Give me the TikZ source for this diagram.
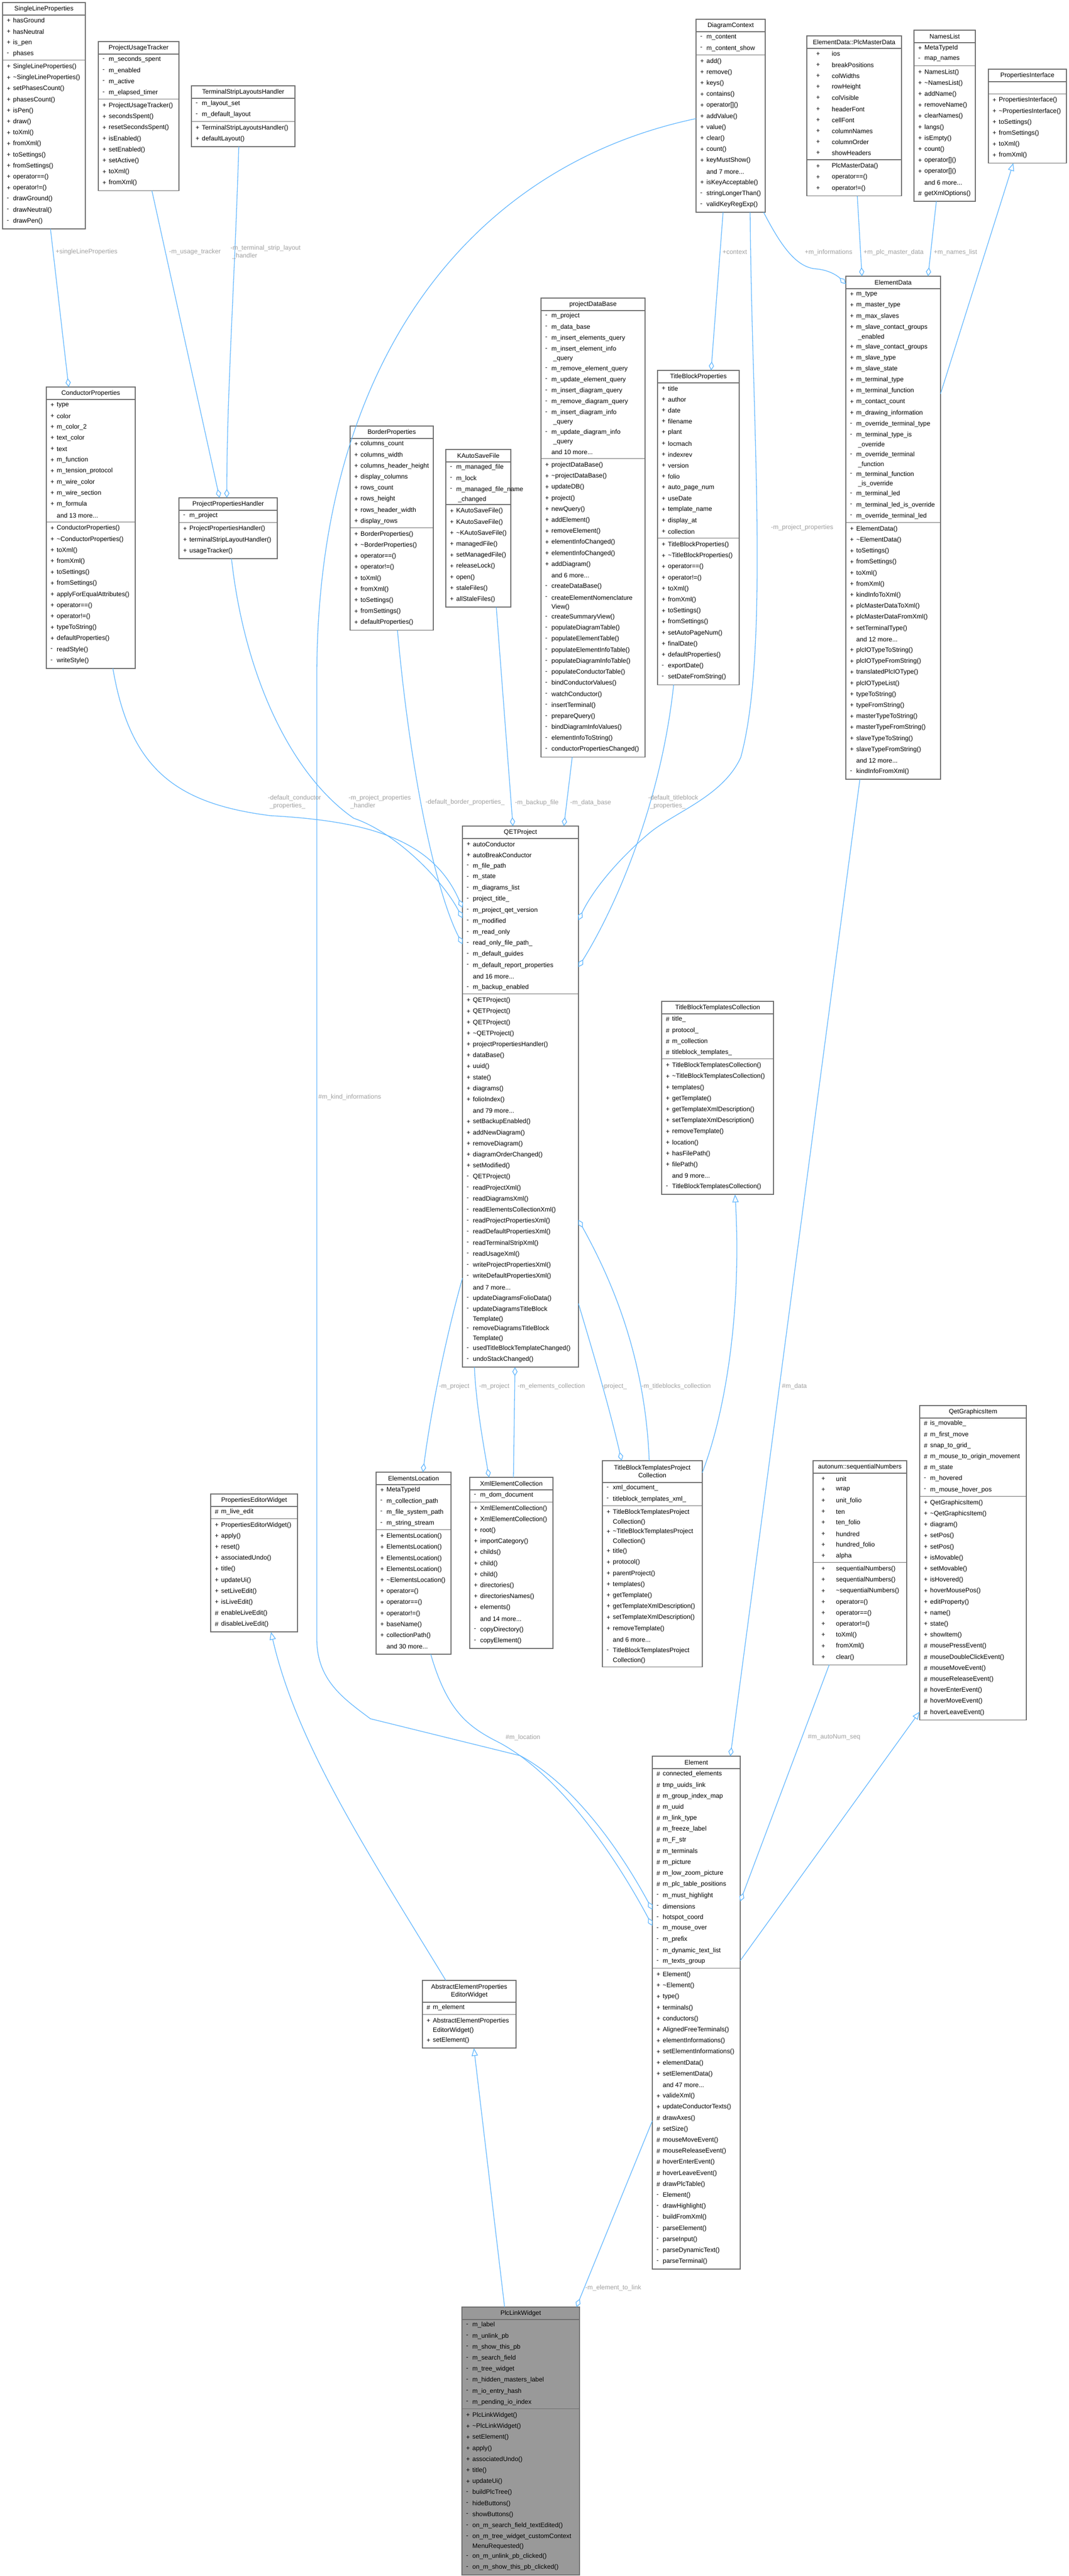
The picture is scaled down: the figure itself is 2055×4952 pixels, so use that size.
\documentclass[tikz,border=0pt]{standalone}
\usepackage{fontspec}
\setmainfont{Liberation Sans}
\usetikzlibrary{arrows.meta,calc,backgrounds}
\definecolor{edgec}{RGB}{99,184,255}
\definecolor{boxc}{RGB}{110,110,110}
\definecolor{labc}{RGB}{160,160,160}
\definecolor{plw}{RGB}{153,153,153}
\newcommand\fs{\fontsize{12.3}{15}\selectfont}
\newcommand\tld{\textasciitilde}
\newcommand\dd{.\kern0pt.\kern0pt.}
\def\RH{21.2}\def\RHc{16.5}
\def\mko{8}\def\txo{20}
\def\mkp{+}\def\mkm{-}\def\mkh{\#}
\def\sepm{s}\def\contm{c}
\newcommand\cls[8][white]{%
\begin{scope}
 \pgfmathsetmacro\cx{#3}\pgfmathsetmacro\cyt{#4}\pgfmathsetmacro\cw{#5}
 \node[font=\fs,align=center,inner sep=0] at (\cx+\cw/2,\cyt+#6/2) {#7};
 \pgfmathsetmacro\yy{\cyt+#6}
 \xdef\cury{\yy}
 \draw[boxc,line width=1.3] (\cx,\yy) -- (\cx+\cw,\yy);
 \foreach \m/\t in {#8}{%
   \edef\mm{\m}%
   \ifx\mm\sepm
     \draw[boxc,line width=1.3] (\cx,\cury+2) -- (\cx+\cw,\cury+2);
     \pgfmathsetmacro\ny{\cury+4}\xdef\cury{\ny}%
   \else
     \ifx\mm\contm\def\rh{\RHc}\else\def\rh{\RH}\fi
     \pgfmathsetmacro\yc{\cury+\rh/2}%
     \ifcsname mk\m\endcsname
       \node[font=\fs,anchor=west,inner sep=0] at (\cx+\mko,\yc) {\csname mk\m\endcsname};
     \fi
     \node[font=\fs,anchor=west,inner sep=0] at (\cx+\txo,\yc) {\t};
     \pgfmathsetmacro\ny{\cury+\rh}\xdef\cury{\ny}%
   \fi}
 \pgfmathsetmacro\hgt{\cury+4-\cyt}
 \begin{pgfonlayer}{background}
 \node[draw=boxc,fill=#1,line width=1.6,anchor=north west,inner sep=0,outer sep=0,
   minimum width=\cw pt,minimum height=\hgt pt] (#2) at (\cx,\cyt) {};
 \end{pgfonlayer}
\end{scope}}
\tikzset{
 edge/.style={draw=edgec,line width=1.3},
 agg/.style={edge,-{Diamond[length=17,width=10,fill=white,line width=1.3]}},
 inh/.style={edge,-{Triangle[length=15,width=12,fill=white,line width=1.3]}},
 lab/.style={font=\fs,text=labc,anchor=west,inner sep=0,align=left}
}
\begin{document}
\catcode`\_=12
\begin{tikzpicture}[x=1pt,y=-1pt]
\begin{pgfonlayer}{background}
\fill[white] (0,0) rectangle (2055,4952);
\end{pgfonlayer}
\useasboundingbox (0,0) rectangle (2055,4952);

\cls{SLP}{5}{5}{159}{24}{SingleLineProperties}{p/hasGround,p/hasNeutral,p/is_pen,m/phases,s/x,p/SingleLineProperties(),p/\tld{}SingleLineProperties(),p/setPhasesCount(),p/phasesCount(),p/isPen(),p/draw(),p/toXml(),p/fromXml(),p/toSettings(),p/fromSettings(),p/operator==(),p/operator!=(),m/drawGround(),m/drawNeutral(),m/drawPen()}
\cls{PUT}{189}{80}{155}{24}{ProjectUsageTracker}{m/m_seconds_spent,m/m_enabled,m/m_active,m/m_elapsed_timer,s/x,p/ProjectUsageTracker(),p/secondsSpent(),p/resetSecondsSpent(),p/isEnabled(),p/setEnabled(),p/setActive(),p/toXml(),p/fromXml()}
\cls{TSLH}{368}{165}{199}{24}{TerminalStripLayoutsHandler}{m/m_layout_set,m/m_default_layout,s/x,p/TerminalStripLayoutsHandler(),p/defaultLayout()}
\cls{DC}{1338}{37}{133}{24}{DiagramContext}{m/m_content,m/m_content_show,s/x,p/add(),p/remove(),p/keys(),p/contains(),p/operator[](),p/addValue(),p/value(),p/clear(),p/count(),p/keyMustShow(),n/and 7 more\dd,p/isKeyAcceptable(),m/stringLongerThan(),m/validKeyRegExp()}
{\def\mko{18}\def\txo{48}
\cls{PMD}{1551}{69}{182}{24}{ElementData::PlcMasterData}{p/ios,p/breakPositions,p/colWidths,p/rowHeight,p/colVisible,p/headerFont,p/cellFont,p/columnNames,p/columnOrder,p/showHeaders,s/x,p/PlcMasterData(),p/operator==(),p/operator!=()}}
\cls{NL}{1757}{58}{118}{24}{NamesList}{p/MetaTypeId,m/map_names,s/x,p/NamesList(),p/\tld{}NamesList(),p/addName(),p/removeName(),p/clearNames(),p/langs(),p/isEmpty(),p/count(),p/operator[](),p/operator[](),n/and 6 more\dd,h/getXmlOptions()}
\cls{PI}{1900}{133}{150}{24}{PropertiesInterface}{e/{},s/x,p/PropertiesInterface(),p/\tld{}PropertiesInterface(),p/toSettings(),p/fromSettings(),p/toXml(),p/fromXml()}
\cls{CP}{89}{744}{171}{24}{ConductorProperties}{p/type,p/color,p/m_color_2,p/text_color,p/text,p/m_function,p/m_tension_protocol,p/m_wire_color,p/m_wire_section,p/m_formula,n/and 13 more\dd,s/x,p/ConductorProperties(),p/\tld{}ConductorProperties(),p/toXml(),p/fromXml(),p/toSettings(),p/fromSettings(),p/applyForEqualAttributes(),p/operator==(),p/operator!=(),p/typeToString(),p/defaultProperties(),m/readStyle(),m/writeStyle()}
\cls{PPH}{344}{957}{189}{24}{ProjectPropertiesHandler}{m/m_project,s/x,p/ProjectPropertiesHandler(),p/terminalStripLayoutHandler(),p/usageTracker()}
\cls{BP}{673}{819}{160}{24}{BorderProperties}{p/columns_count,p/columns_width,p/columns_header_height,p/display_columns,p/rows_count,p/rows_height,p/rows_header_width,p/display_rows,s/x,p/BorderProperties(),p/\tld{}BorderProperties(),p/operator==(),p/operator!=(),p/toXml(),p/fromXml(),p/toSettings(),p/fromSettings(),p/defaultProperties()}
\cls{KASF}{857}{864}{125}{24}{KAutoSaveFile}{m/m_managed_file,m/m_lock,m/m_managed_file_name,c/\ _changed,s/x,p/KAutoSaveFile(),p/KAutoSaveFile(),p/\tld{}KAutoSaveFile(),p/managedFile(),p/setManagedFile(),p/releaseLock(),p/open(),p/staleFiles(),p/allStaleFiles()}
\cls{PDB}{1040}{573}{200}{24}{projectDataBase}{m/m_project,m/m_data_base,m/m_insert_elements_query,m/m_insert_element_info,c/\ _query,m/m_remove_element_query,m/m_update_element_query,m/m_insert_diagram_query,m/m_remove_diagram_query,m/m_insert_diagram_info,c/\ _query,m/m_update_diagram_info,c/\ _query,n/and 10 more\dd,s/x,p/projectDataBase(),p/\tld{}projectDataBase(),p/updateDB(),p/project(),p/newQuery(),p/addElement(),p/removeElement(),p/elementInfoChanged(),p/elementInfoChanged(),p/addDiagram(),n/and 6 more\dd,m/createDataBase(),m/createElementNomenclature,c/View(),m/createSummaryView(),m/populateDiagramTable(),m/populateElementTable(),m/populateElementInfoTable(),m/populateDiagramInfoTable(),m/populateConductorTable(),m/bindConductorValues(),m/watchConductor(),m/insertTerminal(),m/prepareQuery(),m/bindDiagramInfoValues(),m/elementInfoToString(),m/conductorPropertiesChanged()}
\cls{TBP}{1264}{712}{157}{24}{TitleBlockProperties}{p/title,p/author,p/date,p/filename,p/plant,p/locmach,p/indexrev,p/version,p/folio,p/auto_page_num,p/useDate,p/template_name,p/display_at,p/collection,s/x,p/TitleBlockProperties(),p/\tld{}TitleBlockProperties(),p/operator==(),p/operator!=(),p/toXml(),p/fromXml(),p/toSettings(),p/fromSettings(),p/setAutoPageNum(),p/finalDate(),p/defaultProperties(),m/exportDate(),m/setDateFromString()}
\cls{ED}{1626}{531}{182}{24}{ElementData}{p/m_type,p/m_master_type,p/m_max_slaves,p/m_slave_contact_groups,c/\ _enabled,p/m_slave_contact_groups,p/m_slave_type,p/m_slave_state,p/m_terminal_type,p/m_terminal_function,p/m_contact_count,p/m_drawing_information,m/m_override_terminal_type,m/m_terminal_type_is,c/\ _override,m/m_override_terminal,c/\ _function,m/m_terminal_function,c/\ _is_override,m/m_terminal_led,m/m_terminal_led_is_override,m/m_override_terminal_led,s/x,p/ElementData(),p/\tld{}ElementData(),p/toSettings(),p/fromSettings(),p/toXml(),p/fromXml(),p/kindInfoToXml(),p/plcMasterDataToXml(),p/plcMasterDataFromXml(),p/setTerminalType(),n/and 12 more\dd,p/plcIOTypeToString(),p/plcIOTypeFromString(),p/translatedPlcIOType(),p/plcIOTypeList(),p/typeToString(),p/typeFromString(),p/masterTypeToString(),p/masterTypeFromString(),p/slaveTypeToString(),p/slaveTypeFromString(),n/and 12 more\dd,m/kindInfoFromXml()}
\cls{QET}{889}{1588}{223}{24}{QETProject}{p/autoConductor,p/autoBreakConductor,m/m_file_path,m/m_state,m/m_diagrams_list,m/project_title_,m/m_project_qet_version,m/m_modified,m/m_read_only,m/read_only_file_path_,m/m_default_guides,m/m_default_report_properties,n/and 16 more\dd,m/m_backup_enabled,s/x,p/QETProject(),p/QETProject(),p/QETProject(),p/\tld{}QETProject(),p/projectPropertiesHandler(),p/dataBase(),p/uuid(),p/state(),p/diagrams(),p/folioIndex(),n/and 79 more\dd,p/setBackupEnabled(),p/addNewDiagram(),p/removeDiagram(),p/diagramOrderChanged(),p/setModified(),m/QETProject(),m/readProjectXml(),m/readDiagramsXml(),m/readElementsCollectionXml(),m/readProjectPropertiesXml(),m/readDefaultPropertiesXml(),m/readTerminalStripXml(),m/readUsageXml(),m/writeProjectPropertiesXml(),m/writeDefaultPropertiesXml(),n/and 7 more\dd,m/updateDiagramsFolioData(),m/updateDiagramsTitleBlock,c/Template(),m/removeDiagramsTitleBlock,c/Template(),m/usedTitleBlockTemplateChanged(),m/undoStackChanged()}
\cls{TBTC}{1272}{1925}{215}{24}{TitleBlockTemplatesCollection}{h/title_,h/protocol_,h/m_collection,h/titleblock_templates_,s/x,p/TitleBlockTemplatesCollection(),p/\tld{}TitleBlockTemplatesCollection(),p/templates(),p/getTemplate(),p/getTemplateXmlDescription(),p/setTemplateXmlDescription(),p/removeTemplate(),p/location(),p/hasFilePath(),p/filePath(),n/and 9 more\dd,m/TitleBlockTemplatesCollection()}
\cls{PEW}{405}{2872}{167}{24}{PropertiesEditorWidget}{h/m_live_edit,s/x,p/PropertiesEditorWidget(),p/apply(),p/reset(),p/associatedUndo(),p/title(),p/updateUi(),p/setLiveEdit(),p/isLiveEdit(),h/enableLiveEdit(),h/disableLiveEdit()}
\cls{EL}{723}{2830}{144}{24}{ElementsLocation}{p/MetaTypeId,m/m_collection_path,m/m_file_system_path,m/m_string_stream,s/x,p/ElementsLocation(),p/ElementsLocation(),p/ElementsLocation(),p/ElementsLocation(),p/\tld{}ElementsLocation(),p/operator=(),p/operator==(),p/operator!=(),p/baseName(),p/collectionPath(),n/and 30 more\dd}
\cls{XEC}{903}{2840}{160}{24}{XmlElementCollection}{m/m_dom_document,s/x,p/XmlElementCollection(),p/XmlElementCollection(),p/root(),p/importCategory(),p/childs(),p/child(),p/child(),p/directories(),p/directoriesNames(),p/elements(),n/and 14 more\dd,m/copyDirectory(),m/copyElement()}
\cls{TBTPC}{1158}{2808}{192}{42}{TitleBlockTemplatesProject\\Collection}{m/xml_document_,m/titleblock_templates_xml_,s/x,p/TitleBlockTemplatesProject,c/Collection(),p/\tld{}TitleBlockTemplatesProject,c/Collection(),p/title(),p/protocol(),p/parentProject(),p/templates(),p/getTemplate(),p/getTemplateXmlDescription(),p/setTemplateXmlDescription(),p/removeTemplate(),n/and 6 more\dd,m/TitleBlockTemplatesProject,c/Collection()}
{\def\mko{16}\def\txo{44}
\cls{SN}{1563}{2808}{180}{24}{autonum::sequentialNumbers}{p/unit,p/wrap,p/unit_folio,p/ten,p/ten_folio,p/hundred,p/hundred_folio,p/alpha,s/x,p/sequentialNumbers(),p/sequentialNumbers(),p/\tld{}sequentialNumbers(),p/operator=(),p/operator==(),p/operator!=(),p/toXml(),p/fromXml(),p/clear()}}
\cls{QGI}{1768}{2702}{205}{24}{QetGraphicsItem}{h/is_movable_,h/m_first_move,h/snap_to_grid_,h/m_mouse_to_origin_movement,h/m_state,m/m_hovered,m/m_mouse_hover_pos,s/x,p/QetGraphicsItem(),p/\tld{}QetGraphicsItem(),p/diagram(),p/setPos(),p/setPos(),p/isMovable(),p/setMovable(),p/isHovered(),p/hoverMousePos(),p/editProperty(),p/name(),p/state(),p/showItem(),h/mousePressEvent(),h/mouseDoubleClickEvent(),h/mouseMoveEvent(),h/mouseReleaseEvent(),h/hoverEnterEvent(),h/hoverMoveEvent(),h/hoverLeaveEvent()}
\cls{EM}{1254}{3376}{169}{24}{Element}{h/connected_elements,h/tmp_uuids_link,h/m_group_index_map,h/m_uuid,h/m_link_type,h/m_freeze_label,h/m_F_str,h/m_terminals,h/m_picture,h/m_low_zoom_picture,h/m_plc_table_positions,m/m_must_highlight,m/dimensions,m/hotspot_coord,m/m_mouse_over,m/m_prefix,m/m_dynamic_text_list,m/m_texts_group,s/x,p/Element(),p/\tld{}Element(),p/type(),p/terminals(),p/conductors(),p/AlignedFreeTerminals(),p/elementInformations(),p/setElementInformations(),p/elementData(),p/setElementData(),n/and 47 more\dd,p/valideXml(),p/updateConductorTexts(),h/drawAxes(),h/setSize(),h/mouseMoveEvent(),h/mouseReleaseEvent(),h/hoverEnterEvent(),h/hoverLeaveEvent(),h/drawPlcTable(),m/Element(),m/drawHighlight(),m/buildFromXml(),m/parseElement(),m/parseInput(),m/parseDynamicText(),m/parseTerminal()}
\cls{AEP}{812}{3807}{180}{42}{AbstractElementProperties\\EditorWidget}{h/m_element,s/x,p/AbstractElementProperties,c/EditorWidget(),p/setElement()}
\cls[plw]{PLW}{888}{4435}{226}{24}{PlcLinkWidget}{m/m_label,m/m_unlink_pb,m/m_show_this_pb,m/m_search_field,m/m_tree_widget,m/m_hidden_masters_label,m/m_io_entry_hash,m/m_pending_io_index,s/x,p/PlcLinkWidget(),p/\tld{}PlcLinkWidget(),p/setElement(),p/apply(),p/associatedUndo(),p/title(),p/updateUi(),m/buildPlcTree(),m/hideButtons(),m/showButtons(),m/on_m_search_field_textEdited(),m/on_m_tree_widget_customContext,c/MenuRequested(),m/on_m_unlink_pb_clicked(),m/on_m_show_this_pb_clicked()}

% connector end points
\coordinate (a1) at ($(SLP.south west)+(92,0)$);  \coordinate (b1) at ($(CP.north west)+(43,0)$);
\coordinate (a2) at ($(PUT.south west)+(103,0)$); \coordinate (b2) at ($(PPH.north west)+(78,0)$);
\coordinate (a3) at ($(TSLH.south west)+(91,0)$); \coordinate (b3) at ($(PPH.north west)+(92,0)$);
\coordinate (a4) at ($(CP.south west)+(128,0)$);  \coordinate (b4) at ($(QET.north west)+(0,157)$);
\coordinate (a5) at ($(PPH.south west)+(101,0)$); \coordinate (b5) at ($(QET.north west)+(0,177)$);
\coordinate (a6) at ($(BP.south west)+(91,0)$);   \coordinate (b6) at ($(QET.north west)+(0,227)$);
\coordinate (a7) at ($(KASF.south west)+(97,0)$); \coordinate (b7) at ($(QET.north west)+(97,0)$);
\coordinate (a8) at ($(PDB.south west)+(60,0)$);  \coordinate (b8) at ($(QET.north west)+(195,0)$);
\coordinate (a9) at ($(TBP.south west)+(31,0)$);  \coordinate (b9) at ($(QET.north east)+(0,271)$);
\coordinate (a10) at ($(DC.south west)+(104,0)$); \coordinate (b10) at ($(QET.north east)+(0,181)$);
\coordinate (a11) at ($(DC.south west)+(52,0)$);  \coordinate (b11) at ($(TBP.north west)+(103,0)$);
\coordinate (a12) at ($(DC.south west)+(130,0)$); \coordinate (b12) at ($(ED.north west)+(0,15)$);
\coordinate (a13) at ($(PMD.south west)+(97,0)$); \coordinate (b13) at ($(ED.north west)+(31,0)$);
\coordinate (a14) at ($(NL.south west)+(43,0)$);  \coordinate (b14) at ($(ED.north west)+(158,0)$);
\coordinate (a15) at ($(ED.north east)+(0,226)$); \coordinate (b15) at ($(PI.south west)+(48,0)$);
\coordinate (a16) at ($(DC.north west)+(0,191)$); \coordinate (b16) at ($(EM.north west)+(0,295)$);
\coordinate (a17) at ($(EL.south west)+(105,0)$); \coordinate (b17) at ($(EM.north west)+(0,326)$);
\coordinate (a18) at ($(QET.north west)+(0,869)$); \coordinate (b18) at ($(EL.north west)+(90,0)$);
\coordinate (a19) at ($(QET.south west)+(23,0)$); \coordinate (b19) at ($(XEC.north west)+(37,0)$);
\coordinate (a20) at ($(XEC.north west)+(84,0)$); \coordinate (b20) at ($(QET.south west)+(101,0)$);
\coordinate (a21) at ($(QET.north east)+(0,918)$); \coordinate (b21) at ($(TBTPC.north west)+(37,0)$);
\coordinate (a22) at ($(TBTPC.north west)+(90,0)$); \coordinate (b22) at ($(QET.north east)+(0,757)$);
\coordinate (a23) at ($(TBTPC.north east)+(0,23)$); \coordinate (b23) at ($(TBTC.south west)+(141,0)$);
\coordinate (a24) at ($(ED.south west)+(27,0)$);  \coordinate (b24) at ($(EM.north west)+(150,0)$);
\coordinate (a25) at ($(SN.south west)+(31,0)$);  \coordinate (b25) at ($(EM.north east)+(0,279)$);
\coordinate (a26) at ($(EM.north east)+(0,393)$); \coordinate (b26) at ($(QGI.south west)+(0,-16)$);
\coordinate (a27) at ($(EM.north west)+(0,701)$); \coordinate (b27) at ($(PLW.north east)+(-6,0)$);
\coordinate (a28) at ($(AEP.north west)+(45,0)$); \coordinate (b28) at ($(PEW.south west)+(116,0)$);
\coordinate (a29) at ($(PLW.north west)+(82,0)$); \coordinate (b29) at ($(AEP.south west)+(99,0)$);

\draw[agg] (a1) -- (b1);
\draw[agg] (a2) -- (b2);
\draw[agg] (a3) .. controls (452,520) and (436,760) .. (b3);
\draw[agg] (a4) .. controls (250,1480) and (340,1545) .. (520,1568) .. controls (700,1578) and (830,1610) .. (b4);
\draw[agg] (a5) .. controls (470,1300) and (560,1490) .. (680,1573) .. controls (760,1600) and (850,1690) .. (b5);
\draw[agg] (a6) .. controls (790,1500) and (840,1720) .. (b6);
\draw[agg] (a7) -- (b7);
\draw[agg] (a8) -- (b8);
\draw[agg] (a9) .. controls (1270,1550) and (1180,1750) .. (b9);
\draw[agg] (a10) .. controls (1445,800) and (1480,1250) .. (1424,1456) .. controls (1390,1530) and (1300,1560) .. (1250,1600) .. controls (1190,1650) and (1140,1710) .. (b10);
\draw[agg] (a11) -- (b11);
\draw[agg] (a12) .. controls (1500,470) and (1530,515) .. (1570,517) .. controls (1600,520) and (1615,535) .. (b12);
\draw[agg] (a13) -- (b13);
\draw[agg] (a14) -- (b14);
\draw[inh] (a15) -- (b15);
\draw[agg] (a16) .. controls (900,320) and (609,700) .. (609,1300) -- (609,3150) .. controls (609,3230) and (660,3265) .. (712,3304) -- (1000,3375) .. controls (1120,3440) and (1210,3590) .. (b16);
\draw[agg] (a17) .. controls (860,3290) and (900,3320) .. (960,3350) .. controls (1090,3420) and (1200,3600) .. (b17);
\draw[agg] (a18) .. controls (860,2560) and (830,2700) .. (b18);
\draw[agg] (a19) .. controls (915,2700) and (930,2780) .. (b19);
\draw[agg] (a20) -- (b20);
\draw[agg] (a21) .. controls (1140,2600) and (1170,2700) .. (b21);
\draw[agg] (a22) .. controls (1240,2600) and (1170,2450) .. (b22);
\draw[inh] (a23) .. controls (1400,2700) and (1425,2500) .. (b23);
\draw[agg] (a24) -- (b24);
\draw[agg] (a25) -- (b25);
\draw[inh] (a26) -- (b26);
\draw[agg] (a27) -- (b27);
\draw[inh] (a28) .. controls (700,3550) and (570,3350) .. (b28);
\draw[inh] (a29) -- (b29);

% labels
\node[lab] (l1) at (107,484) {+singleLineProperties};
\node[lab] (l2) at (325,484) {-m_usage_tracker};
\node[lab] (l3) at (443,485) {-m_terminal_strip_layout\\\ _handler};
\node[lab] (l4) at (515,1542) {-default_conductor\\\ _properties_};
\node[lab] (l5) at (670,1542) {-m_project_properties\\\ _handler};
\node[lab] (l6) at (818,1542) {-default_border_properties_};
\node[lab] (l7) at (990,1543) {-m_backup_file};
\node[lab] (l8) at (1096,1543) {-m_data_base};
\node[lab] (l9) at (1246,1542) {-default_titleblock\\\ _properties_};
\node[lab] (l10) at (1482,1014) {-m_project_properties};
\node[lab] (l11) at (1389,485) {+context};
\node[lab] (l12) at (1547,485) {+m_informations};
\node[lab] (l13) at (1660,485) {+m_plc_master_data};
\node[lab] (l14) at (1795,485) {+m_names_list};
\node[lab] (l16) at (612,2109) {\#m_kind_informations};
\node[lab] (l17) at (972,3340) {\#m_location};
\node[lab] (l18) at (844,2665) {-m_project};
\node[lab] (l19) at (921,2665) {-m_project};
\node[lab] (l20) at (995,2665) {-m_elements_collection};
\node[lab] (l21) at (1157,2665) {-project_};
\node[lab] (l22) at (1233,2665) {-m_titleblocks_collection};
\node[lab] (l24) at (1503,2665) {\#m_data};
\node[lab] (l25) at (1553,3340) {\#m_autoNum_seq};
\node[lab] (l27) at (1125,4398) {-m_element_to_link};
\end{tikzpicture}
\end{document}
